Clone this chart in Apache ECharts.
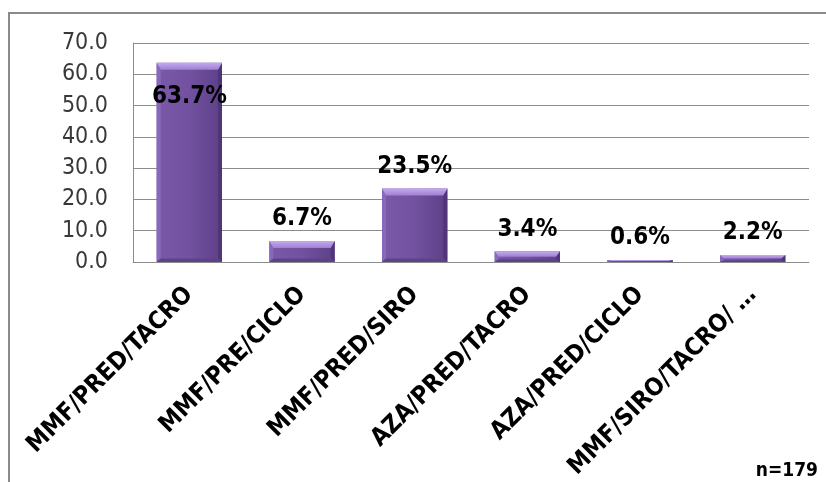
<!DOCTYPE html>
<html>
<head>
<meta charset="utf-8">
<script src="https://cdn.jsdelivr.net/npm/echarts@6/dist/echarts.min.js"></script>
<style>
  html, body { margin: 0; padding: 0; background: #ffffff; }
  #chart { width: 826px; height: 482px; }
</style>
</head>
<body>
<div id="chart"></div>
<script>
// Treatment combinations and their share of patients (%)
const categories = ['MMF/PRED/TACRO', 'MMF/PRE/CICLO', 'MMF/PRED/SIRO', 'AZA/PRED/TACRO', 'AZA/PRED/CICLO', 'MMF/SIRO/TACRO/ …'];
const shares = [63.7, 6.7, 23.5, 3.4, 0.6, 2.2];
const yTicks = { min: 0, max: 70, interval: 10 };
const footnote = 'n=179';

const FONT = '"DejaVu Sans Condensed", "DejaVu Sans", sans-serif';
const chart = echarts.init(document.getElementById('chart'));

// Beveled purple column, drawn from the axis scales
function renderBar(params, api) {
  const idx = api.value(0);
  const val = api.value(1);
  const top = api.coord([idx, val]);
  const base = api.coord([idx, 0]);
  const bandW = api.size([1, 0])[0];
  const w = bandW * 0.58;
  const x = top[0] - w / 2;
  const y = top[1];
  const h = Math.max(base[1] - top[1], 1.5);
  const bev = Math.min(7, h / 2);
  const side = Math.min(4, w / 6);
  const children = [
    { type: 'rect', shape: { x: x, y: y, width: w, height: h },
      style: { fill: new echarts.graphic.LinearGradient(0, 0, 1, 0, [
        { offset: 0, color: '#7a5aa8' }, { offset: 0.5, color: '#7252a0' }, { offset: 1, color: '#5d3f88' }]) } },
    // left highlight edge
    { type: 'polygon', shape: { points: [[x, y], [x + side, y + bev], [x + side, y + h - bev / 2], [x, y + h]] },
      style: { fill: '#8868ba' } },
    // right shadow edge
    { type: 'polygon', shape: { points: [[x + w, y], [x + w - side, y + bev], [x + w - side, y + h - bev / 2], [x + w, y + h]] },
      style: { fill: '#503679' } },
    // bottom shadow edge
    { type: 'polygon', shape: { points: [[x, y + h], [x + side, y + h - bev / 2], [x + w - side, y + h - bev / 2], [x + w, y + h]] },
      style: { fill: '#5e4288' } },
    // top bevel highlight
    { type: 'polygon', shape: { points: [[x, y], [x + w, y], [x + w - side, y + bev], [x + side, y + bev]] },
      style: { fill: new echarts.graphic.LinearGradient(0, 0, 0, 1, [
        { offset: 0, color: '#c4aaf0' }, { offset: 1, color: '#9f80d2' }]) } }
  ];
  // value label above the column, or inside it when it would leave the plot
  const gridTop = api.coord([0, yTicks.max])[1];
  let ly = y - 10;
  let vAlign = 'bottom';
  if (ly - 22 < gridTop) { ly = y + 34; vAlign = 'middle'; }
  children.push({
    type: 'text', z2: 10,
    style: { x: top[0], y: ly, text: val.toFixed(1) + '%', align: 'center', verticalAlign: vAlign,
      font: 'bold 24px ' + FONT, fill: '#000000' }
  });
  return { type: 'group', children: children };
}

chart.setOption({
  animation: false,
  backgroundColor: '#ffffff',
  graphic: [
    { type: 'rect', shape: { x: 9, y: 13, width: 840, height: 500 },
      style: { fill: 'none', stroke: '#8a8a8a', lineWidth: 2 } },
    { type: 'text', right: 8, bottom: 1,
      style: { text: footnote, font: 'bold 19px ' + FONT, fill: '#000000' } }
  ],
  grid: { left: 133, right: 17, top: 43, bottom: 219 },
  xAxis: {
    type: 'category',
    data: categories,
    axisLine: { show: true, lineStyle: { color: '#8c8c8c', width: 1 } },
    axisTick: { show: false },
    axisLabel: {
      interval: 0, rotate: 45, margin: 29,
      fontFamily: FONT, fontSize: 24.5, fontWeight: 'bold', color: '#000000'
    }
  },
  yAxis: {
    type: 'value',
    min: yTicks.min, max: yTicks.max, interval: yTicks.interval,
    axisLine: { show: true, lineStyle: { color: '#8c8c8c', width: 1 } },
    axisTick: { show: false },
    splitLine: { lineStyle: { color: '#8c8c8c', width: 1 } },
    axisLabel: {
      margin: 25, fontFamily: FONT, fontSize: 23, color: '#383838',
      formatter: v => v.toFixed(1)
    }
  },
  series: [{
    type: 'custom',
    renderItem: renderBar,
    encode: { x: 0, y: 1 },
    data: shares.map((v, i) => [i, v])
  }]
});
</script>
</body>
</html>
